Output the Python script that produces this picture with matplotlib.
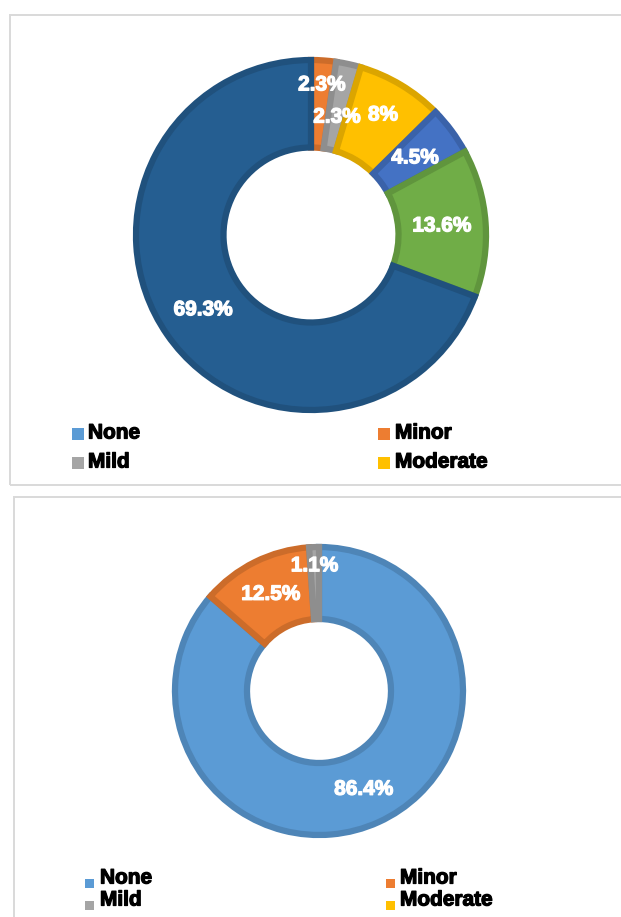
import matplotlib
matplotlib.use("Agg")
import matplotlib.pyplot as plt
import numpy as np
from matplotlib.patches import Rectangle
from matplotlib import colors as mcolors
from matplotlib import patheffects as pe

plt.rcParams["font.family"] = ["Liberation Sans", "DejaVu Sans"]

# ---- data ----
legend_names = ["None", "Minor", "Mild", "Moderate"]
legend_colors = ["#5B9BD5", "#ED7D31", "#A5A5A5", "#FFC000"]

top_values = [0.0, 2.3, 2.3, 8.0, 4.5, 13.6, 69.3]
top_labels = ["", "2.3%", "2.3%", "8%", "4.5%", "13.6%", "69.3%"]
top_colors = ["#5B9BD5", "#ED7D31", "#A5A5A5", "#FFC000", "#4472C4", "#70AD47", "#255E91"]

bottom_values = [86.4, 12.5, 1.1]
bottom_labels = ["86.4%", "12.5%", "1.1%"]
bottom_colors = ["#5B9BD5", "#ED7D31", "#A5A5A5"]

# radial placement of each value label (fraction of outer radius)
top_label_r = [0.75, 0.86, 0.69, 0.80, 0.74, 0.75, 0.75]
bottom_label_r = [0.75, 0.75, 0.87]

W, H = 621, 917
fig = plt.figure(figsize=(W / 100, H / 100), dpi=100)


def fx(x):
    return x / W


def fy(y):
    return 1 - y / H


def darker(c, f=0.86):
    r, g, b = mcolors.to_rgb(c)
    return (r * f, g * f, b * f)


def heavy(color, w=0.9):
    return [pe.withStroke(linewidth=w, foreground=color)]


def donut(cx, cy, r, values, labels, cols, label_r):
    ax = fig.add_axes([fx(cx - r), fy(cy + r), 2 * r / W, 2 * r / H])
    vals = np.array(values, dtype=float)
    keep = vals > 0
    v = vals[keep]
    c = [col for col, k in zip(cols, keep) if k]
    wedges, _ = ax.pie(v, colors=c, startangle=90, counterclock=False,
                       radius=1.0, wedgeprops=dict(width=0.5, linewidth=4.5))
    for w, col in zip(wedges, c):
        # border kept inside each segment only
        w.set_edgecolor(darker(col))
        w.set_clip_path(w)
    total = vals.sum()
    cum = 0.0
    for val, lab, rf in zip(vals, labels, label_r):
        if val > 0:
            theta = np.deg2rad(90 - 360 * (cum + val / 2) / total)
            ax.text(rf * np.cos(theta), rf * np.sin(theta), lab, color="white",
                    fontsize=15, fontweight="bold", ha="center", va="center",
                    path_effects=heavy("white"))
        cum += val
    ax.set_xlim(-1, 1)
    ax.set_ylim(-1, 1)
    ax.axis("off")
    return ax


def legend(rows, sq_x, txt_x, sq_size, sq_dy):
    for i, (name, col) in enumerate(zip(legend_names, legend_colors)):
        row, colidx = divmod(i, 2)
        y = rows[row]
        fig.patches.append(Rectangle((fx(sq_x[colidx]), fy(y + sq_dy + sq_size / 2)),
                                     sq_size / W, sq_size / H, facecolor=col,
                                     edgecolor="none", transform=fig.transFigure))
        fig.text(fx(txt_x[colidx]), fy(y), name, fontsize=15, fontweight="bold",
                 color="black", ha="left", va="center",
                 path_effects=heavy("black"))


# panel frames
for (x0, y0, x1, y1) in [(10, 15, 640, 485), (14, 497, 640, 940)]:
    fig.patches.append(Rectangle((fx(x0), fy(y1)), (x1 - x0) / W, (y1 - y0) / H,
                                 facecolor="none", edgecolor="#D9D9D9",
                                 linewidth=1.4, transform=fig.transFigure))

donut(311, 235, 175, top_values, top_labels, top_colors, top_label_r)
legend([433, 462], [72, 378], [88, 395], 12, 1)

donut(319, 691, 144, bottom_values, bottom_labels, bottom_colors, bottom_label_r)
legend([878, 900], [85, 386], [100, 400], 9, 5)

fig.savefig("out.png", dpi=100)
